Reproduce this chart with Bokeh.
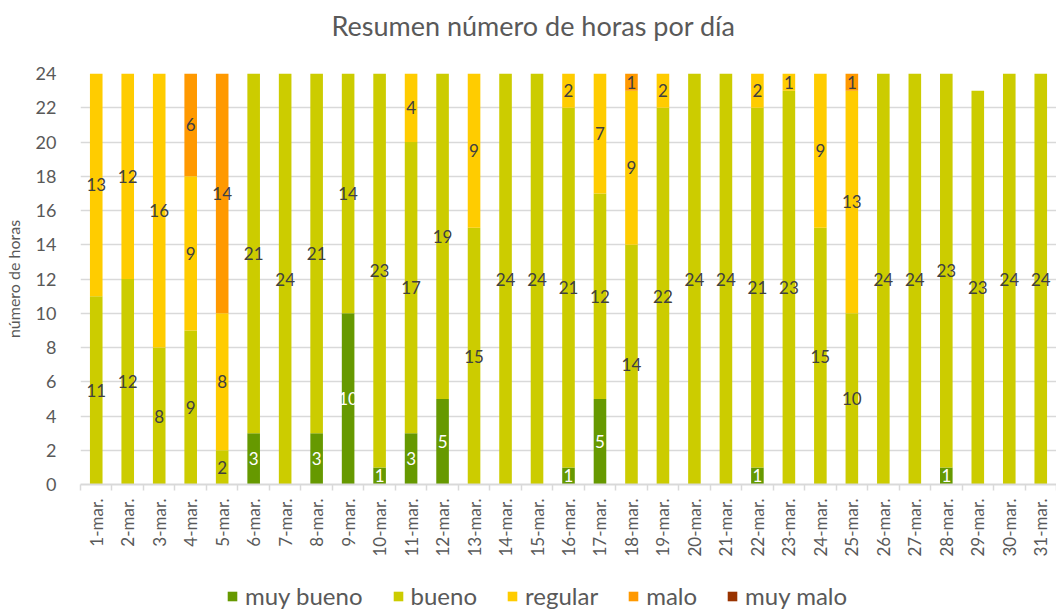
import math
from bokeh.plotting import figure
from bokeh.layouts import column
from bokeh.models import Range1d, FixedTicker, ColumnDataSource, Legend, LegendItem, Title
from bokeh.embed import file_html
from bokeh.resources import INLINE
from bokeh.core.properties import value

days = ["1-mar.", "2-mar.", "3-mar.", "4-mar.", "5-mar.", "6-mar.", "7-mar.", "8-mar.",
        "9-mar.", "10-mar.", "11-mar.", "12-mar.", "13-mar.", "14-mar.", "15-mar.",
        "16-mar.", "17-mar.", "18-mar.", "19-mar.", "20-mar.", "21-mar.", "22-mar.",
        "23-mar.", "24-mar.", "25-mar.", "26-mar.", "27-mar.", "28-mar.", "29-mar.",
        "30-mar.", "31-mar."]

muy_bueno = [0, 0, 0, 0, 0, 3, 0, 3, 10, 1, 3, 5, 0, 0, 0, 1, 5, 0, 0, 0, 0, 1, 0, 0, 0, 0, 0, 1, 0, 0, 0]
bueno = [11, 12, 8, 9, 2, 21, 24, 21, 14, 23, 17, 19, 15, 24, 24, 21, 12, 14, 22, 24, 24, 21, 23, 15, 10, 24, 24, 23, 23, 24, 24]
regular = [13, 12, 16, 9, 8, 0, 0, 0, 0, 0, 4, 0, 9, 0, 0, 2, 7, 9, 2, 0, 0, 2, 1, 9, 13, 0, 0, 0, 0, 0, 0]
malo = [0, 0, 0, 6, 14, 0, 0, 0, 0, 0, 0, 0, 0, 0, 0, 0, 0, 1, 0, 0, 0, 0, 0, 0, 1, 0, 0, 0, 0, 0, 0]
muy_malo = [0] * 31

series_names = ["muy bueno", "bueno", "regular", "malo", "muy malo"]
series_keys = ["muy_bueno", "bueno", "regular", "malo", "muy_malo"]
series_values = [muy_bueno, bueno, regular, malo, muy_malo]
colors = ["#669900", "#cccc00", "#ffcc00", "#ff9900", "#993300"]
label_colors = ["#ffffff", "#404040", "#404040", "#404040", "#404040"]

x = list(range(1, len(days) + 1))
data = {"x": x}
for k, v in zip(series_keys, series_values):
    data[k] = v
src = ColumnDataSource(data)

# data labels at segment centers
lx, ly, lt, lc = [], [], [], []
for i in range(len(days)):
    base = 0
    for v, c in zip(series_values, label_colors):
        val = v[i]
        if val > 0:
            lx.append(x[i])
            ly.append(base + val / 2)
            lt.append(str(val))
            lc.append(c)
        base += val
lsrc = ColumnDataSource(dict(x=lx, y=ly, t=lt, c=lc))

p = figure(width=1056, height=578, x_range=Range1d(0.5, 31.5), y_range=Range1d(0, 24),
           output_backend="svg", toolbar_location=None,
           min_border_left=75, min_border_right=0, min_border_top=73, min_border_bottom=94)

rs = p.vbar_stack(series_keys, x="x", width=0.4, color=colors, line_color=None, source=src)

p.text(x="x", y="y", text="t", source=lsrc, text_color="c", text_align="center",
       text_baseline="middle", text_font=value("Lato"), text_font_size="17px")

p.title.text = "Resumen número de horas por día"
p.title.text_font = "Lato"
p.title.text_font_size = "27px"
p.title.text_font_style = "normal"
p.title.text_color = "#595959"
p.title.align = "left"
p.title.offset = 251
p.title.vertical_align = "top"
p.title.standoff = 4

# blank spacer between the title and the plot area
p.add_layout(Title(text=" ", text_font_size="23px", standoff=0), "above")

p.outline_line_color = None
p.xgrid.visible = False
p.ygrid.grid_line_color = "#d9d9d9"
p.ygrid.grid_line_width = 1.5

p.yaxis.ticker = FixedTicker(ticks=list(range(0, 25, 2)))
p.yaxis.axis_line_color = None
p.yaxis.major_tick_line_color = None
p.yaxis.minor_tick_line_color = None
p.yaxis.major_label_text_font = "Lato"
p.yaxis.major_label_text_font_size = "18px"
p.yaxis.major_label_text_color = "#595959"
p.yaxis.major_label_standoff = 18
p.yaxis.axis_label = "número de horas"
p.yaxis.axis_label_text_font = "Lato"
p.yaxis.axis_label_text_font_size = "16px"
p.yaxis.axis_label_text_font_style = "normal"
p.yaxis.axis_label_text_color = "#595959"
p.yaxis.axis_label_standoff = 10

p.xaxis.ticker = FixedTicker(ticks=x, minor_ticks=[i + 0.5 for i in range(0, 32)])
p.xaxis.major_label_overrides = {xi: d for xi, d in zip(x, days)}
p.xaxis.major_label_orientation = math.pi / 2
p.xaxis.major_tick_line_color = None
p.xaxis.minor_tick_in = 0
p.xaxis.minor_tick_out = 6
p.xaxis.minor_tick_line_color = "#d9d9d9"
p.xaxis.minor_tick_line_width = 1.5
p.xaxis.axis_line_color = "#d9d9d9"
p.xaxis.axis_line_width = 2
p.xaxis.major_label_text_font = "Lato"
p.xaxis.major_label_text_font_size = "17px"
p.xaxis.major_label_text_color = "#595959"
p.xaxis.major_label_standoff = 8

# legend strip below the chart (key swatches only; their bars lie outside the strip's range)
lp = figure(width=1056, height=32, x_range=Range1d(0, 1), y_range=Range1d(0, 1),
            output_backend="svg", toolbar_location=None,
            x_axis_location=None, y_axis_location=None,
            min_border_left=0, min_border_right=0, min_border_top=0, min_border_bottom=0)
lp.outline_line_color = None
lp.grid.visible = False
key_renderers = []
for c in colors:
    key_renderers.append(lp.vbar(x=[5], top=[1], width=0.4, color=c, line_color=None))

items = [LegendItem(label=n, renderers=[r]) for n, r in zip(series_names, key_renderers)]
legend = Legend(items=items, orientation="horizontal", location=(146, 0),
                label_text_font="Lato", label_text_font_size="24px", label_text_color="#595959",
                glyph_width=12, glyph_height=12, spacing=29, label_standoff=7,
                border_line_color=None, background_fill_alpha=0, padding=0, margin=0)
lp.add_layout(legend)

layout = column(p, lp, spacing=0)
open("out.html", "w").write(file_html(layout, INLINE))
